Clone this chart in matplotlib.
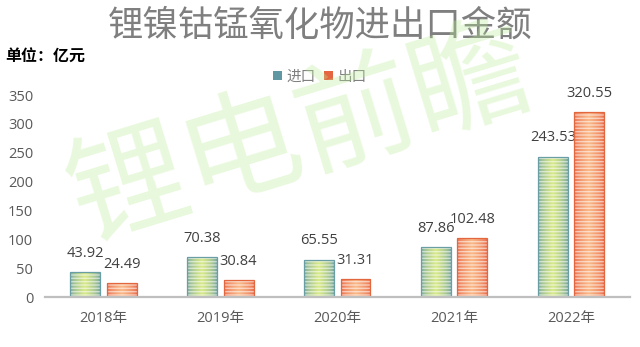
import matplotlib
matplotlib.use("Agg")
import matplotlib.pyplot as plt
import numpy as np
from matplotlib.colors import LinearSegmentedColormap
from matplotlib.patches import Patch

plt.rcParams['font.family'] = ['Open Sans', 'Noto Sans CJK SC', 'DejaVu Sans']
plt.rcParams['hatch.linewidth'] = 1.0

years = ['2018年', '2019年', '2020年', '2021年', '2022年']
imports = [43.92, 70.38, 65.55, 87.86, 243.53]
exports = [24.49, 30.84, 31.31, 102.48, 320.55]
series_names = ['进口', '出口']

fig = plt.figure(figsize=(6.4, 3.47), dpi=100)
ax = fig.add_axes([0.0703, 0.1427, 0.9137, 0.5835])

x = np.arange(len(years))
w = 0.256
off = 0.155

# edge colour, centre colour, outline colour
styles = [
    ('#72a2a3', '#d9ea88', '#6a9ea5'),
    ('#e8694a', '#fab888', '#e2673f'),
]

t = (1 - np.abs(np.linspace(-1, 1, 64))) ** 0.6
grad = t[np.newaxis, :]

for vals, shift, (c_edge, c_mid, c_line) in zip([imports, exports], [-off, off], styles):
    cmap = LinearSegmentedColormap.from_list('g', [c_edge, c_mid])
    bars = ax.bar(x + shift, vals, w, color='none', edgecolor=c_line, lw=0.9, zorder=4)
    for b in bars:
        im = ax.imshow(grad, cmap=cmap, vmin=0, vmax=1, aspect='auto', zorder=2,
                       extent=(b.get_x(), b.get_x() + b.get_width(), 0, b.get_height()))
        im.set_clip_path(b)
    # horizontal stripes
    ax.bar(x + shift, vals, w, color='none', edgecolor=(1, 1, 1, 0.55), lw=0,
           hatch='-----', zorder=3)
    ax.bar_label(bars, fmt='%.2f', padding=8, fontsize=10.5, color='#404040')

ax.set_xlim(-0.5, len(years) - 0.5)
ax.set_ylim(0, 350)
ax.set_yticks(np.arange(0, 351, 50))
ax.set_xticks(x)
ax.set_xticklabels(years)
ax.tick_params(axis='both', length=0, labelsize=10.5, labelcolor='#595959')
ax.tick_params(axis='x', pad=10)
ax.tick_params(axis='y', pad=8.5)
for s in ['top', 'right', 'left']:
    ax.spines[s].set_visible(False)
ax.spines['bottom'].set_color('#bfbfbf')
ax.spines['bottom'].set_linewidth(1.6)
ax.spines['bottom'].set_zorder(5)

fig.text(0.5, 0.925, '锂镍钴锰氧化物进出口金额', fontsize=25.5, color='#7f7f7f',
         ha='center', va='center', family=['Noto Sans CJK SC'])
fig.text(0.008, 0.836, '单位：亿元', fontsize=11.5, fontweight='bold', color='#000000',
         ha='left', va='center', family=['Noto Sans CJK SC'])

handles = [Patch(facecolor='#5f98a3', edgecolor='none'),
           Patch(facecolor='#e4653f', edgecolor='none')]
fig.legend(handles, series_names, loc='center', bbox_to_anchor=(0.5, 0.778), ncol=2,
           frameon=False, fontsize=10.5, labelcolor='#7f7f7f', handlelength=0.6,
           handleheight=0.6, handletextpad=0.3, columnspacing=0.6)

# watermark
fig.text(0.47, 0.605, '锂电前瞻', rotation=17, fontsize=86, color='#b8ec94', alpha=0.32,
         ha='center', va='center', family=['Noto Sans CJK SC'], zorder=10)

fig.savefig('out.png', dpi=100)
